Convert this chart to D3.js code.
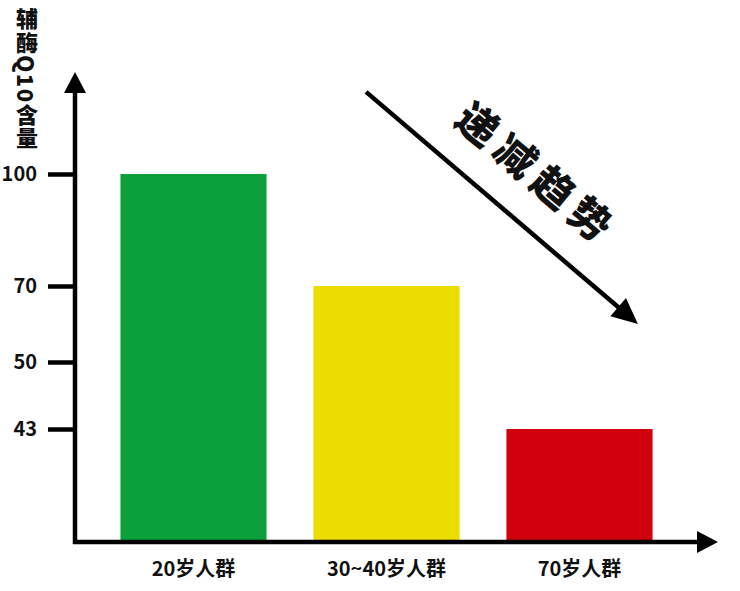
<!DOCTYPE html>
<html>
<head>
<meta charset="utf-8">
<script src="https://cdn.jsdelivr.net/npm/d3@7"></script>
<style>
  html, body { margin: 0; padding: 0; background: #fff; }
  svg { display: block; }
  svg text { font-family: "Noto Sans CJK SC", "Noto Sans", sans-serif; }
</style>
</head>
<body>
<svg id="chart" width="740" height="591"></svg>
<script>
const categories = ["20岁人群", "30~40岁人群", "70岁人群"];
const values = [100, 70, 43];
const colors = ["#0aa03c", "#ebdd00", "#d1000e"];
const yTicks = [100, 70, 50, 43];
const yTitle = "辅酶Q10含量";
const trendLabel = "递减趋势";
// trend arrow: [category, fraction across band, value]
const trendFrom = ["30~40岁人群", 0.36, 122];
const trendTo = ["70岁人群", 0.9, 60];

const svg = d3.select("#chart");
const axisX = 75, axisY = 542;

// the tick spacing in the picture is not even, so the scale is piecewise
const y = d3.scaleLinear()
  .domain([0, 43, 50, 70, 100])
  .range([axisY, 429, 362, 286, 174]);

const x = d3.scaleBand()
  .domain(categories)
  .range([97, 676])
  .paddingInner(0.243)
  .paddingOuter(0.1215);

// bars
svg.append("g")
  .selectAll("rect")
  .data(categories)
  .join("rect")
  .attr("x", d => x(d))
  .attr("y", (d, i) => y(values[i]))
  .attr("width", x.bandwidth())
  .attr("height", (d, i) => axisY - y(values[i]))
  .attr("fill", (d, i) => colors[i]);

// y axis ticks and labels
const yAxis = svg.append("g")
  .attr("transform", `translate(${axisX},0)`)
  .call(d3.axisLeft(y).tickValues(yTicks).tickSize(27).tickPadding(11))
  .attr("font-family", null);
yAxis.select(".domain").remove();
yAxis.selectAll(".tick line").attr("stroke", "#000").attr("stroke-width", 4.5);
yAxis.selectAll(".tick text")
  .style("font-size", "20px")
  .style("font-weight", 700)
  .attr("fill", "#111");

// x axis labels
const xAxis = svg.append("g")
  .attr("transform", `translate(0,${axisY})`)
  .call(d3.axisBottom(x).tickSize(0).tickPadding(20))
  .attr("font-family", null);
xAxis.select(".domain").remove();
xAxis.selectAll(".tick text")
  .style("font-size", "20px")
  .style("font-weight", 700)
  .attr("fill", "#111");

// axis lines with arrow heads
const axes = svg.append("g");
axes.append("path")
  .attr("d", `M${axisX},${axisY + 2} V90 M${axisX - 2},${axisY} H700`)
  .attr("fill", "none")
  .attr("stroke", "#000")
  .attr("stroke-width", 4.5);
axes.append("path")
  .attr("d", `M${axisX},72 L${axisX + 11},93 L${axisX - 11},93 Z`)
  .attr("fill", "#000");
axes.append("path")
  .attr("d", `M718,${axisY} L697,${axisY - 11} L697,${axisY + 11} Z`)
  .attr("fill", "#000");

// y title, vertical writing
svg.append("text")
  .attr("x", 27)
  .attr("y", 8)
  .style("writing-mode", "vertical-rl")
  .style("font-size", "22px")
  .style("font-weight", 900)
  .style("letter-spacing", "1.5px")
  .attr("fill", "#111")
  .text(yTitle);

// trend arrow
const p0 = [x(trendFrom[0]) + x.bandwidth() * trendFrom[1], y(trendFrom[2])];
const p1 = [x(trendTo[0]) + x.bandwidth() * trendTo[1], y(trendTo[2])];
const ang = Math.atan2(p1[1] - p0[1], p1[0] - p0[0]);
const headLen = 26, headHalf = 12;
const base = [p1[0] - headLen * Math.cos(ang), p1[1] - headLen * Math.sin(ang)];
const trend = svg.append("g");
trend.append("line")
  .attr("x1", p0[0]).attr("y1", p0[1])
  .attr("x2", base[0] + 3 * Math.cos(ang)).attr("y2", base[1] + 3 * Math.sin(ang))
  .attr("stroke", "#000")
  .attr("stroke-width", 4.5);
trend.append("path")
  .attr("d", d3.line()([
    p1,
    [base[0] + headHalf * Math.sin(ang), base[1] - headHalf * Math.cos(ang)],
    [base[0] - headHalf * Math.sin(ang), base[1] + headHalf * Math.cos(ang)]
  ]) + "Z")
  .attr("fill", "#000");

const deg = ang * 180 / Math.PI - 0.5;
trend.append("text")
  .attr("transform", `translate(539,172) rotate(${deg})`)
  .attr("text-anchor", "middle")
  .attr("dominant-baseline", "central")
  .style("font-size", "41px")
  .style("font-weight", 900)
  .style("letter-spacing", "8px")
  .attr("fill", "#111")
  .text(trendLabel);
</script>
</body>
</html>
